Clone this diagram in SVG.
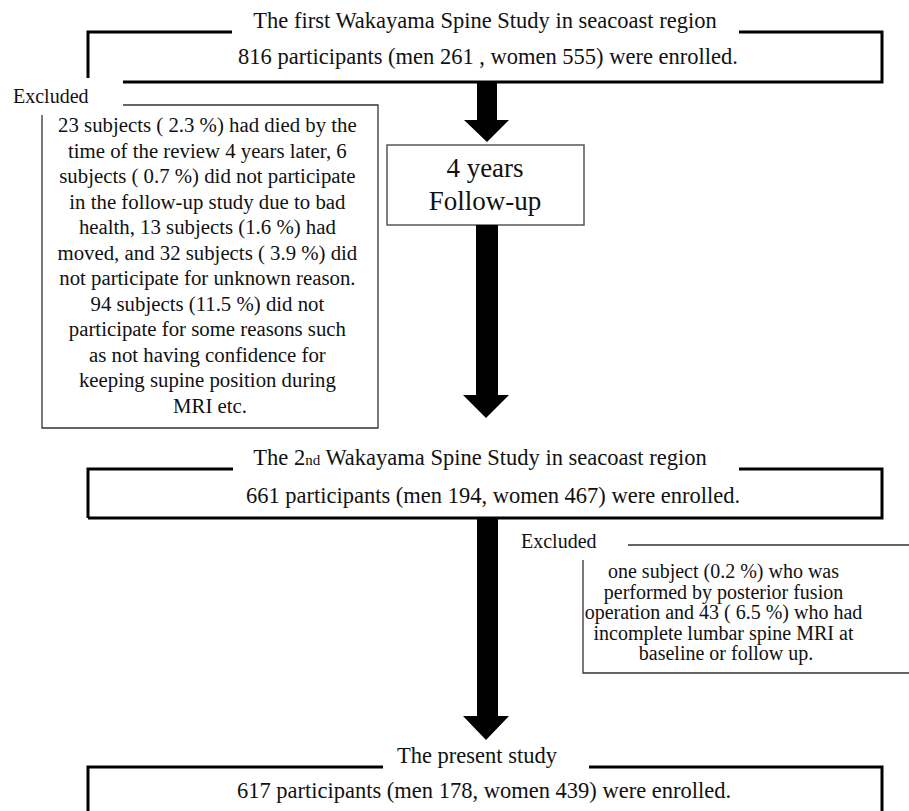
<svg xmlns="http://www.w3.org/2000/svg" width="909" height="811" viewBox="0 0 909 811">
<style>
  text { font-family: 'Liberation Serif', 'DejaVu Serif', serif; fill: #111; }
  .main { font-size: 22.5px; }
  .lbl { font-size: 20px; }
  .exl { font-size: 20.8px; text-anchor: middle; }
  .exr { font-size: 20px; text-anchor: middle; }
  .fu { font-size: 27px; text-anchor: middle; }
  .mid { text-anchor: middle; }
  .thick { fill: none; stroke: #000; stroke-width: 3; }
  .thin { fill: none; stroke: #333; stroke-width: 1.3; }
  .arrow { fill: #000; }
</style>
<rect width="909" height="811" fill="#fff"/>

<g id="study1" font-family="Liberation Serif, serif">
  <path class="thick" d="M88 78 V32 H232 M739 32 H882 V82 H123"/>
  <text class="main mid" x="485" y="28">The first Wakayama  Spine Study  in seacoast region</text>
  <text class="main mid" x="488" y="64">816 participants (men 261 , women 555) were enrolled.</text>
</g>

<g id="excluded1">
  <text class="lbl" x="13" y="103">Excluded</text>
  <path class="thin" d="M123 105 H378 V428 H42 V115"/>
  <text class="exl">
    <tspan x="210" y="132">23 subjects ( 2.3 %) had died by the</tspan>
    <tspan x="210" y="157.5">time of the review 4 years later, 6</tspan>
    <tspan x="210" y="183">subjects ( 0.7 %) did not participate</tspan>
    <tspan x="210" y="208.5">in the follow-up study due to bad</tspan>
    <tspan x="210" y="234">health, 13 subjects (1.6 %) had</tspan>
    <tspan x="210" y="259.5">moved, and 32 subjects ( 3.9 %) did</tspan>
    <tspan x="210" y="285">not participate  for unknown reason.</tspan>
    <tspan x="210" y="310.5">94 subjects (11.5 %) did not</tspan>
    <tspan x="210" y="336">participate for some reasons such</tspan>
    <tspan x="210" y="361.5">as not having confidence for</tspan>
    <tspan x="210" y="387">keeping supine position during</tspan>
    <tspan x="210" y="412.5">MRI etc.</tspan>
  </text>
</g>

<g id="followup">
  <rect x="387" y="145" width="197" height="80" fill="#fff" stroke="#555" stroke-width="1.5"/>
  <text class="fu" x="485" y="177">4 years</text>
  <text class="fu" x="485" y="210">Follow-up</text>
</g>

<g id="study2">
  <path class="thick" d="M88 518 V469 H233 M739 469 H882 V518 H88"/>
  <text class="main mid" x="480" y="465">The 2<tspan font-size="15px">nd</tspan> Wakayama  Spine Study  in seacoast region</text>
  <text class="main mid" x="493" y="503">661 participants (men  194, women 467) were enrolled.</text>
</g>

<g id="excluded2">
  <text class="lbl" x="521" y="548">Excluded</text>
  <path class="thin" d="M628 545 H909 M583 560 V673 H909"/>
  <text class="exr">
    <tspan x="726" y="578">one subject (0.2 %) who was</tspan>
    <tspan x="726" y="598.5">performed by posterior fusion</tspan>
    <tspan x="726" y="619">operation and 43 ( 6.5 %) who had</tspan>
    <tspan x="726" y="639.5">incomplete lumbar spine MRI at</tspan>
    <tspan x="726" y="660">baseline or follow up.</tspan>
  </text>
</g>

<g id="present">
  <path class="thick" d="M88 811 V767 H383 M589 767 H882 V811"/>
  <text class="main mid" x="477" y="763">The present study</text>
  <text class="main mid" x="484" y="798">617 participants (men  178, women 439) were enrolled.</text>
</g>

<g id="connectors">
  <polygon class="arrow" points="477,82 497,82 497,120 509,120 487,142 464,120 477,120"/>
  <polygon class="arrow" points="476,225 498,225 498,395 509,395 486,418 463,395 476,395"/>
  <polygon class="arrow" points="477,518 498,518 498,716 509,716 486,740 463,716 477,716"/>
</g>
</svg>
